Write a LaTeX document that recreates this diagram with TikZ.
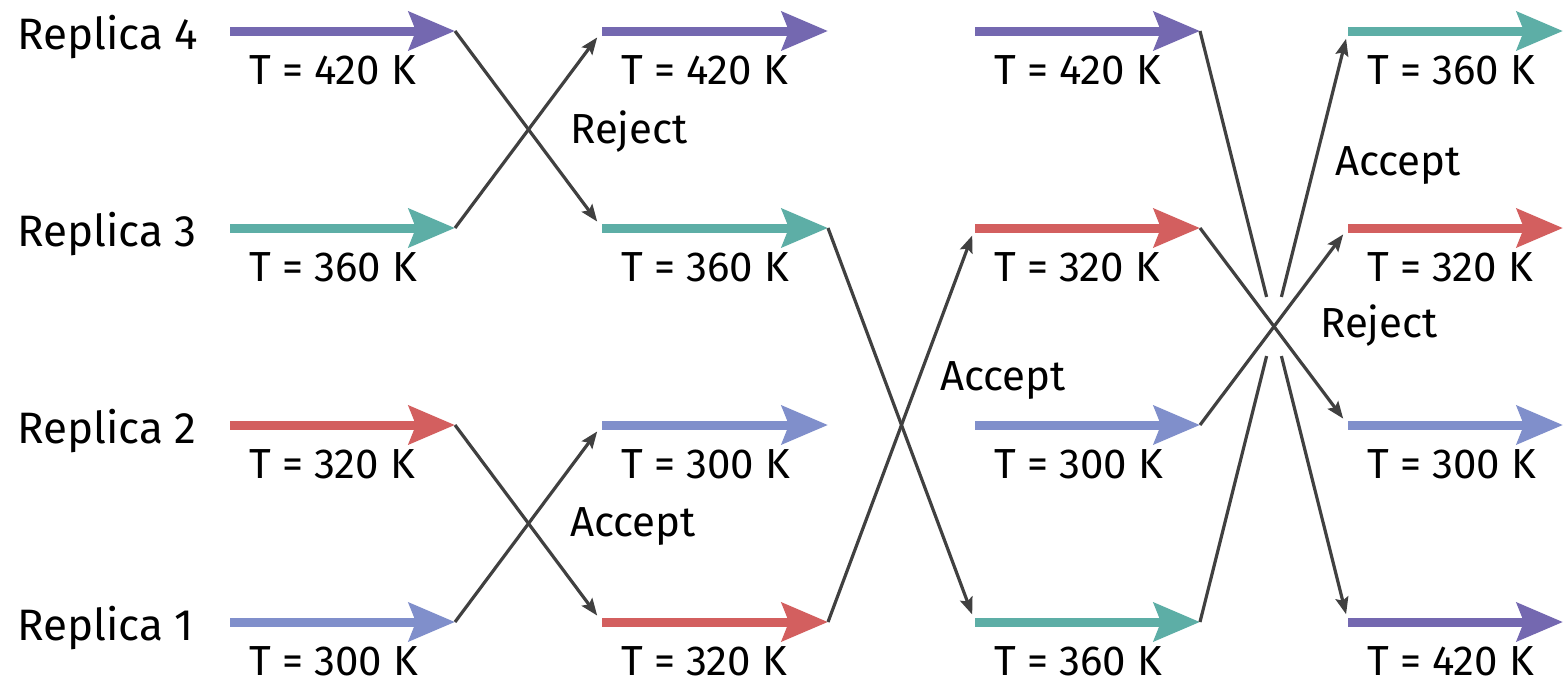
\documentclass[tikz,border=0pt]{standalone}
\usepackage{fontspec}
\setmainfont{Fira Sans}
\usetikzlibrary{arrows.meta,calc}
\definecolor{rpurple}{HTML}{7468B0}
\definecolor{rteal}{HTML}{5DAEA6}
\definecolor{rred}{HTML}{D35F5F}
\definecolor{rblue}{HTML}{808FCB}
\definecolor{linkgray}{HTML}{404040}
\begin{document}
\begin{tikzpicture}[x=1pt,y=-1pt,
  run/.style={line width=9pt,-{Stealth[length=46pt,width=38pt,inset=7pt]}},
  swap/.style={draw=linkgray,line width=3.2pt,-{Stealth[length=17pt,width=13pt,inset=3pt]},shorten >=8pt},
  swaypart/.style={draw=linkgray,line width=3.2pt},
  txt/.style={font=\fontsize{42}{48}\selectfont,anchor=base west,inner sep=0pt},
  rname/.style={txt,font=\fontsize{44}{50}\selectfont},
  temp/.style={txt},
  verdict/.style={txt}]
\useasboundingbox (0,0) rectangle (1565,683);

% start and end points of every run segment
\foreach \c/\xs/\xe in {1/230/455,2/602/828,3/975/1200,4/1348/1563}
  \foreach \r/\y in {4/31,3/228,2/425,1/622}{
    \coordinate (s\c\r) at (\xs,\y);
    \coordinate (e\c\r) at (\xe,\y);
  }

% replica names
\foreach \r in {4,3,2,1}
  \node[rname] (name\r) at ($(s1\r)+(-213,18)$) {Replica \r};

% run segments with their temperatures
\foreach \c/\r/\col/\t in {
  1/4/rpurple/420,1/3/rteal/360,1/2/rred/320,1/1/rblue/300,
  2/4/rpurple/420,2/3/rteal/360,2/2/rblue/300,2/1/rred/320,
  3/4/rpurple/420,3/3/rred/320,3/2/rblue/300,3/1/rteal/360,
  4/4/rteal/360,4/3/rred/320,4/2/rblue/300,4/1/rpurple/420}{
  \draw[run,\col] (s\c\r) -- (e\c\r);
  \node[temp] (t\c\r) at ($(s\c\r)+(19,53)$) {T = \t{} K};
}

% exchange attempts
\draw[swap] (e14) -- (s23);
\draw[swap] (e13) -- (s24);
\draw[swap] (e12) -- (s21);
\draw[swap] (e11) -- (s22);

\draw[swap] (e23) -- (s31);
\draw[swap] (e21) -- (s33);

\draw[swap] (e33) -- (s42);
\draw[swap] (e32) -- (s43);
\draw[swaypart] (e34) -- ($(e34)!0.45!(s41)$);
\draw[swap] ($(e34)!0.55!(s41)$) -- (s41);
\draw[swaypart] (e31) -- ($(e31)!0.45!(s44)$);
\draw[swap] ($(e31)!0.55!(s44)$) -- (s44);

% outcomes
\node[verdict] (v1) at (570,143) {Reject};
\node[verdict] (v2) at (570,536) {Accept};
\node[verdict] (v3) at (940,390) {Accept};
\node[verdict] (v4) at (1335,175) {Accept};
\node[verdict] (v5) at (1320,337) {Reject};
\end{tikzpicture}
\end{document}
